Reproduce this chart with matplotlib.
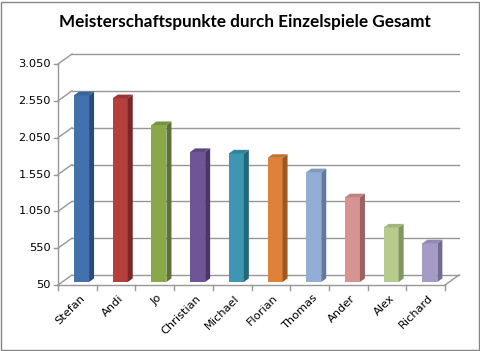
import matplotlib
matplotlib.use("Agg")
import matplotlib.pyplot as plt
from matplotlib.patches import Polygon, Rectangle
import numpy as np

names = ["Stefan", "Andi", "Jo", "Christian", "Michael", "Florian", "Thomas", "Ander", "Alex", "Richard"]
values = [2585, 2545, 2180, 1815, 1795, 1735, 1540, 1200, 790, 575]
front_colors = ["#4271B0", "#B4403E", "#8AA74A", "#6F5496", "#3C97B0", "#DE8239", "#93AED6", "#D69392", "#B7CB8F", "#A59BC6"]
side_colors = ["#2B4B76", "#7A2826", "#5C7230", "#493766", "#266679", "#9F561F", "#63799C", "#9A6261", "#82965F", "#736B94"]
top_colors = ["#3A6399", "#9A3634", "#78923F", "#5E4880", "#348499", "#C2712F", "#8099BD", "#BE8281", "#A2B67D", "#918AB0"]
ytick_vals = [50, 550, 1050, 1550, 2050, 2550, 3050]
ytick_labels = ["50", "550", "1.050", "1.550", "2.050", "2.550", "3.050"]

W, H = 480, 351
fig = plt.figure(figsize=(W / 100, H / 100), dpi=100)

# pixel geometry
x_front_left, x_front_right = 58, 445
y_base_px, y_top_px = 285, 64
dx_px, dy_px = 14, 10
ymin, ymax = 50, 3050

xu = 10 / (x_front_right - x_front_left)          # data per px in x
yu = (ymax - ymin) / (y_base_px - y_top_px)       # data per px in y
DX, DY = dx_px * xu, dy_px * yu

ax_left_px, ax_right_px = x_front_left, x_front_right + dx_px
ax_bottom_px, ax_top_px = y_base_px, y_top_px - dy_px
ax = fig.add_axes([ax_left_px / W, 1 - ax_bottom_px / H,
                   (ax_right_px - ax_left_px) / W, (ax_bottom_px - ax_top_px) / H])
ax.set_xlim(-0.5, 9.5 + DX)
ax.set_ylim(ymin, ymax + DY)
ax.axis("off")

gc = "#979797"
lab_fs = 8.2
# back wall gridlines + left wall diagonals
for v, lab in zip(ytick_vals, ytick_labels):
    ax.plot([-0.5 + DX, 9.5 + DX], [v + DY, v + DY], color=gc, lw=1.0, clip_on=False, zorder=1)
    ax.plot([-0.5, -0.5 + DX], [v, v + DY], color=gc, lw=1.0, clip_on=False, zorder=1)
    ax.plot([-0.5 - 4 * xu, -0.5], [v, v], color=gc, lw=1.0, clip_on=False, zorder=1)
    ax.text(-0.5 - 7 * xu, v, lab, ha="right", va="center",
            fontsize=lab_fs, family="DejaVu Sans", color="#000000")
# front vertical axis
ax.plot([-0.5, -0.5], [ymin, ymax], color=gc, lw=1.0, clip_on=False, zorder=1)
# floor front edge and right diagonal
ax.plot([-0.5, 9.5], [ymin, ymin], color=gc, lw=1.0, clip_on=False, zorder=1)
ax.plot([9.5, 9.5 + DX], [ymin, ymin + DY], color=gc, lw=1.0, clip_on=False, zorder=1)
# x ticks
for i in range(11):
    ax.plot([i - 0.5, i - 0.5], [ymin, ymin - 5 * yu], color=gc, lw=1.0, clip_on=False, zorder=1)

# bars
x = np.arange(len(names))
bw = 15 * xu
depth_f = 0.3
bx = x + depth_f * DX
bb = ymin + depth_f * DY
sdx, sdy = 5 * xu, 3.6 * yu
ax.bar(bx, [v - ymin for v in values], bottom=bb, width=bw, color=front_colors, zorder=3, linewidth=0)
for i, v in enumerate(values):
    r = bx[i] + bw / 2
    l = bx[i] - bw / 2
    top = v + depth_f * DY
    ax.add_patch(Polygon([[r, bb], [r, top], [r + sdx, top + sdy], [r + sdx, bb + sdy]],
                         closed=True, facecolor=side_colors[i], edgecolor="none", zorder=3, clip_on=False))
    ax.add_patch(Polygon([[l, top], [r, top], [r + sdx, top + sdy], [l + sdx, top + sdy]],
                         closed=True, facecolor=top_colors[i], edgecolor="none", zorder=3, clip_on=False))
    ax.text(i + 0.06, ymin - 8 * yu, names[i], rotation=45, ha="right", va="top",
            rotation_mode="anchor", fontsize=lab_fs, family="DejaVu Sans", color="#000000")

fig.text(245 / W, 1 - 22 / H, "Meisterschaftspunkte durch Einzelspiele Gesamt", ha="center", va="center",
         fontsize=12.3, fontweight="bold", family="Lato", color="#000000")

fig.patches.append(Rectangle((1 / W, 1 / H), 1 - 2.5 / W, 1 - 2.5 / H,
                             transform=fig.transFigure, facecolor="none",
                             edgecolor="#868686", lw=1.0, figure=fig))

fig.savefig("out.png", dpi=100, facecolor="white")
